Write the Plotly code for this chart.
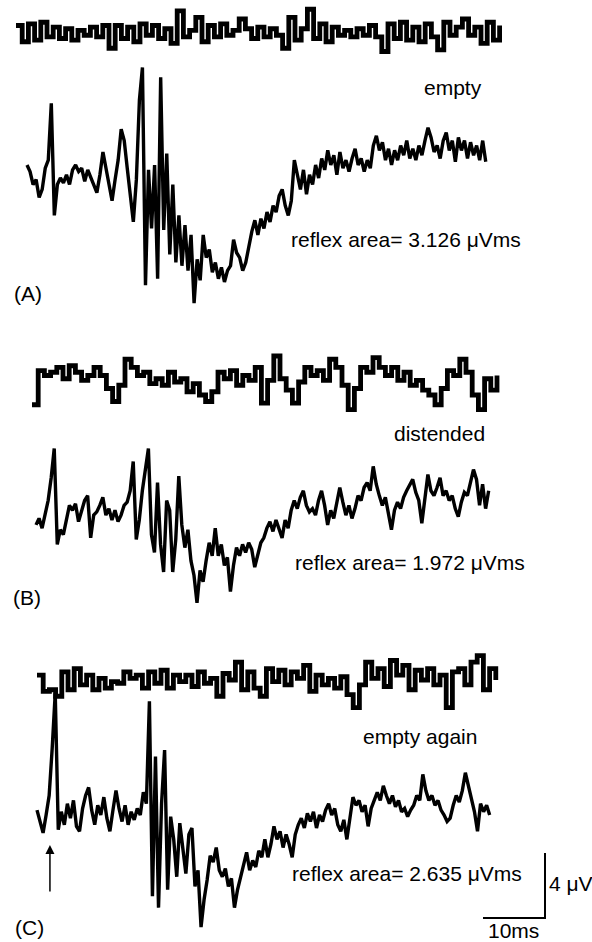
import plotly.graph_objects as go

# ---------------- data (µV), sampled traces ----------------
DT_MAIN = 0.49   # ms between samples, reflex traces
DT_BASE = 1.0    # ms between samples, background traces

a_background = [0.4,-0.6,0.5,-0.5,0.6,-0.3,0.3,-0.4,0.2,-0.5,0.1,-0.2,0.3,-0.3,0.4,-1.0,0.4,-0.4,0.3,-0.6,
                0.5,-0.2,0.4,-0.4,0.2,-0.7,1.3,-0.3,0.1,0.9,-0.6,0.4,-0.3,0.5,-0.2,0.1,0.8,0.2,-0.4,0.3,
                -0.3,0.2,-0.2,-1.0,0.9,-0.5,0.2,1.4,-0.4,0.5,-0.6,0.3,-0.2,0.1,-0.3,0.2,-0.2,0.4,-0.3,-1.2,
                0.5,-0.4,0.6,-0.5,0.3,-0.6,0.5,-0.3,-1.1,0.6,-0.2,0.3,0.8,-0.2,0.3,-0.7,0.6,-0.5,0.4]

a_reflex = [0.8,0.4,-0.4,-0.1,-1.2,-0.7,0.6,1.1,4.6,-2.3,-0.4,0.0,-0.3,0.2,-0.4,0.5,0.8,0.4,0.6,-0.2,
            0.5,0.0,-0.4,-0.9,0.2,1.6,0.6,-0.4,-1.4,-0.1,1.1,3.0,2.3,0.6,-1.0,-2.7,-0.1,4.8,6.8,-6.6,
            0.5,-3.1,0.8,-6.2,6.2,-3.2,1.5,-4.7,-0.4,-5.2,-2.3,-5.4,-2.9,-5.7,-3.5,-7.7,-5.0,-6.3,-3.5,-4.9,
            -4.4,-5.8,-5.2,-6.2,-5.5,-6.4,-5.7,-5.4,-3.8,-4.6,-4.9,-5.7,-5.2,-4.1,-3.3,-2.6,-3.5,-2.5,-3.1,-2.1,
            -2.7,-1.7,-2.1,-1.1,-0.7,-1.7,-2.3,-1.4,1.1,0.2,-0.7,0.5,-1.0,0.2,-0.4,0.8,0.0,1.2,0.5,1.7,
            0.8,1.4,0.2,1.6,0.6,1.1,0.4,1.2,1.8,0.8,1.2,0.4,1.1,0.6,2.0,2.6,1.7,2.2,1.1,1.8,
            0.8,1.7,1.1,2.0,1.4,2.3,1.2,1.8,1.1,2.0,1.4,2.3,3.1,2.5,1.6,2.0,1.2,2.3,2.8,1.7,
            2.3,1.0,2.5,1.7,2.3,1.2,2.2,1.4,2.0,1.1,2.3,1.0]

b_background = [-1.4,0.7,0.4,0.6,0.9,0.2,1.0,0.6,0.1,0.4,0.9,0.4,-0.4,-1.2,-0.2,1.4,0.9,0.4,0.6,-0.1,
                0.2,-0.2,0.6,0.0,0.2,-0.6,-0.1,-0.8,-1.2,-0.6,0.6,0.2,0.7,-0.2,0.4,0.1,0.9,-1.3,0.1,1.6,
                0.2,-0.5,-1.3,0.0,0.9,0.4,0.7,0.1,1.4,0.9,-0.2,-1.7,-0.4,0.9,0.6,1.5,0.9,0.4,0.9,0.1,
                0.6,-0.2,0.1,-0.5,-0.8,-1.4,-0.4,0.7,0.4,1.4,0.6,-0.8,-1.7,0.2,-0.5,0.4]

b_reflex = [-0.3,0.1,-0.5,0.3,1.2,2.6,4.4,-1.5,-0.6,-0.9,0.1,0.9,0.6,1.0,-0.1,0.5,1.2,1.5,-1.1,0.3,
            0.5,0.9,1.4,0.3,0.7,0.0,0.6,-0.1,0.3,0.9,1.1,1.8,3.6,-1.2,0.0,1.8,3.1,4.4,-0.9,-2.0,
            2.3,-1.5,-3.2,1.2,0.6,-3.2,-1.2,2.7,-0.3,-1.7,-0.6,-2.5,-3.4,-5.1,-3.1,-3.8,-2.5,-1.4,-2.2,-0.5,
            -2.2,-1.5,-2.8,-2.3,-4.4,-2.8,-1.7,-2.2,-1.5,-2.0,-1.4,-1.8,-2.9,-2.2,-1.4,-1.1,-0.5,-0.1,-0.7,0.0,
            -0.6,-1.1,0.0,-0.5,0.6,1.2,0.7,1.4,1.8,0.9,0.5,0.7,0.3,1.2,1.8,0.9,-0.3,0.6,0.1,1.2,
            2.0,1.1,0.3,0.9,0.1,0.7,1.5,1.2,2.0,2.3,1.8,3.3,2.2,1.5,0.9,1.4,0.3,-0.6,0.6,1.1,
            0.7,1.4,1.8,2.2,2.5,1.7,1.2,-0.2,1.4,2.8,1.8,1.5,2.0,2.6,1.5,1.8,1.2,1.5,0.7,0.2,
            1.1,1.7,1.5,2.2,3.1,2.5,0.9,2.2,0.7,1.8]

c_background = [0.3,-0.7,-0.6,-1.0,0.5,-0.6,0.7,-0.3,0.3,-0.6,0.1,-0.5,-0.1,-0.2,0.5,0.1,0.3,-0.5,0.5,-0.2,
                0.6,-0.5,0.3,-0.1,0.3,-0.4,0.5,-0.2,0.1,-1.0,0.4,0.0,1.1,-0.6,0.5,-0.5,-1.0,0.7,-0.1,0.6,
                -0.3,0.5,0.1,0.9,-0.7,0.3,-0.3,0.1,-0.5,0.2,-0.9,-1.7,-0.3,1.1,0.1,0.7,-0.4,1.2,0.3,0.9,
                -0.6,0.6,0.0,0.7,-0.3,0.3,-1.7,0.5,0.7,-0.3,1.1,1.5,-0.6,0.7,0.0]

c_reflex = [0.3,-0.4,-1.1,0.0,1.2,4.1,7.5,-0.9,0.2,-0.6,0.7,-0.2,0.9,-0.7,-1.0,0.4,1.2,1.7,0.3,-0.6,
            0.6,0.0,1.1,-0.2,-1.0,0.3,1.5,0.4,-0.4,0.6,-0.6,0.2,-0.3,0.4,0.0,1.4,0.7,7.0,-5.0,3.6,
            -5.7,0.7,4.0,-4.6,-0.1,-1.5,-3.8,-0.5,-2.2,-3.6,-1.2,-0.8,-4.4,-3.4,-6.9,-5.2,-4.0,-2.5,-2.9,-2.0,
            -3.4,-3.8,-3.3,-4.4,-3.9,-5.7,-4.6,-3.8,-2.9,-2.3,-3.4,-2.8,-3.2,-2.2,-2.6,-1.5,-2.6,-1.8,-0.7,-1.5,
            -1.0,-2.0,-1.2,-1.8,-2.6,-1.2,-0.6,-0.2,-0.8,0.1,-0.4,0.2,-0.8,0.0,-0.4,0.3,0.7,0.0,0.4,-0.6,
            -1.0,-0.3,-1.5,0.0,1.1,0.6,0.9,0.2,0.6,-0.7,0.4,0.9,1.4,0.9,1.8,1.2,0.7,1.2,0.5,0.9,
            0.2,0.4,-0.1,0.3,0.6,1.2,0.9,2.5,1.5,0.9,1.2,0.6,0.9,0.3,0.0,-0.4,-0.2,0.6,1.2,0.8,
            1.5,2.6,1.8,0.9,0.2,-1.0,0.7,0.2,0.6,0.0]

labels = ["(A)", "(B)", "(C)"]
conditions = ["empty", "distended", "empty again"]
reflex_areas = [3.126, 1.972, 2.635]
SCALE_MS = 10
SCALE_UV = 4
STIM_MS = 3.7

# ---------------- layout constants ----------------
W, H = 592, 942
PX_PER_MS = 6.2
PX_PER_UV = 16.25
X0_PX = 27          # pixel of t = 0

def ms_range():
    return [-X0_PX / PX_PER_MS, (W - X0_PX) / PX_PER_MS]

def uv_at(py):
    return -py / PX_PER_UV

# trace placement: (values, dt, start pixel x, centre pixel y, width, shape)
placement = [
    (a_background, DT_BASE, 16, 32, 4.8, "hv"),
    (a_reflex,     DT_MAIN, 27, 178, 3.4, "linear"),
    (b_background, DT_BASE, 32, 382, 4.8, "hv"),
    (b_reflex,     DT_MAIN, 36, 520, 3.4, "linear"),
    (c_background, DT_BASE, 37, 680, 4.8, "hv"),
    (c_reflex,     DT_MAIN, 37, 815, 3.4, "linear"),
]

fig = go.Figure()
for vals, dt, sx, cy, lw, shape in placement:
    t0 = (sx - X0_PX) / PX_PER_MS
    base = uv_at(cy)
    fig.add_trace(go.Scatter(
        x=[t0 + i * dt for i in range(len(vals))],
        y=[base + v for v in vals],
        mode="lines", line=dict(color="black", width=lw, shape=shape),
        hoverinfo="skip", showlegend=False))

# scale bar
corner_t = (545 - X0_PX) / PX_PER_MS
corner_v = uv_at(918)
fig.add_trace(go.Scatter(
    x=[corner_t - SCALE_MS, corner_t, corner_t],
    y=[corner_v, corner_v, corner_v + SCALE_UV],
    mode="lines", line=dict(color="black", width=2),
    hoverinfo="skip", showlegend=False))

FONT = dict(family="Liberation Sans, Arial, Helvetica, sans-serif", size=21, color="black")

def px(x, y):
    return x / W, 1 - y / H

ann = []
def text(s, x, y, anchor="center"):
    xp, yp = px(x, y)
    ann.append(dict(text=s, x=xp, y=yp, xref="paper", yref="paper", showarrow=False,
                    xanchor=anchor, yanchor="middle", font=FONT))

cond_pos = [(453, 88), (439, 433), (420, 736)]
area_pos = [(406, 240), (410, 562), (407, 873)]
lab_pos = [(28, 293), (27, 597), (29, 927)]
for i in range(3):
    text(conditions[i], *cond_pos[i])
    text(f"reflex area= {reflex_areas[i]:.3f} \u03bcVms", *area_pos[i])
    text(labels[i], *lab_pos[i])
text(f"{SCALE_UV} \u03bcV", 547, 883, anchor="left")
text(f"{SCALE_MS}ms", 513, 930)

# stimulus arrow
ann.append(dict(x=STIM_MS, y=uv_at(845), xref="x", yref="y", ax=0, ay=48,
                showarrow=True, arrowhead=2, arrowsize=1.2, arrowwidth=1.5,
                arrowcolor="black", text=""))

fig.update_layout(
    width=W, height=H, margin=dict(l=0, r=0, t=0, b=0),
    paper_bgcolor="white", plot_bgcolor="white",
    xaxis=dict(range=ms_range(), visible=False, fixedrange=True),
    yaxis=dict(range=[uv_at(H), 0], visible=False, fixedrange=True),
    annotations=ann,
)
fig.write_html("out.html")
